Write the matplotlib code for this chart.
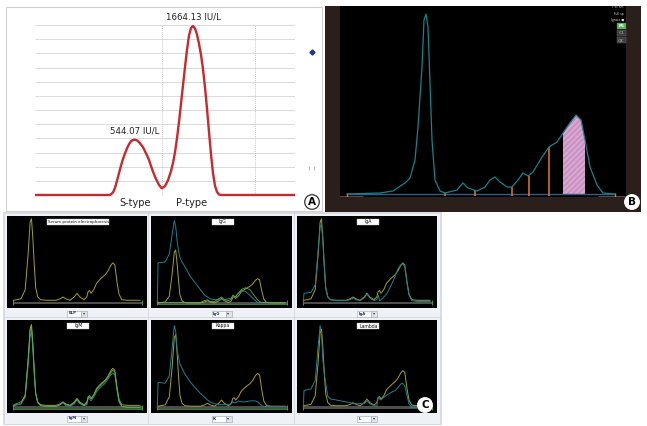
import numpy as np
import matplotlib.pyplot as plt
from matplotlib.patches import Rectangle, Circle

W, H = 647, 426  # figure size in pixels

# ---- Panel A: CK isoenzyme trace (x = migration px, y = IU/L)
A_X = [0, 75, 78, 80, 82, 84, 86, 88, 90, 92, 94, 96, 98, 100, 102, 104, 106,
       108, 110, 112, 114, 116, 118, 120, 122, 124, 126, 127, 130, 133, 136,
       138, 140, 142, 144, 146, 148, 150, 152, 154, 156, 158, 160, 162, 164,
       166, 168, 170, 172, 174, 176, 178, 180, 182, 184, 186, 260]
A_Y = [0, 0, 25, 70, 140, 215, 290, 355, 410, 460, 500, 530, 542, 544, 538,
       520, 497, 470, 430, 390, 345, 285, 230, 180, 138, 100, 74, 66, 88, 145,
       235, 315, 420, 560, 720, 900, 1080, 1260, 1430, 1570, 1645, 1664, 1640,
       1580, 1490, 1380, 1240, 1060, 850, 620, 400, 215, 90, 30, 5, 0, 0]
A_PEAK_X = [100, 158]
A_PEAK_V = [544.07, 1664.13]
A_TYPES = ["S-type", "P-type"]
A_TYPE_X = [100, 157]

# ---- Panel B: densitometry scan (x = mobility, y = density)
B_X = [7, 40, 53, 65, 70, 75, 78, 82, 84, 86, 88, 90, 92, 95, 100, 105, 117,
       123, 128, 137, 145, 150, 155, 160, 167, 172, 178, 183, 188, 193, 202,
       209, 217, 223, 230, 236, 241, 245, 250, 257, 263, 275]
B_Y = [0, 1, 3, 11, 16, 34, 67, 127, 174, 180, 167, 111, 54, 14, 3, 1, 4,
       11, 6, 3, 7, 14, 17, 12, 7, 7, 14, 21, 18, 22, 37,
       47, 52, 61, 71, 79, 74, 54, 27, 9, 1, 0]
B_CUTS = [105, 135, 172, 189, 209]
B_CUT_H = [1, 4, 7, 18, 47]
B_BAND = (223, 245)
B_STATUS = ["F sc sm", "Full sp", "Ignore \u25a0"]
B_BUTTONS = ["P6", "C1", "QC"]

# ---- Panel C: immunofixation overlays (x, y in % of each screen)
C_X = [4.5, 5, 10, 13, 15, 16.5, 17.5, 18.5, 19.5, 20.5, 22, 24, 28, 35, 38,
       40, 42, 45, 48, 50, 52, 55, 57, 58, 59, 60, 62, 64, 67, 70, 72, 74,
       75.5, 77, 78.5, 80, 82, 86, 95]
SPEP = [8.4, 8.4, 10, 20, 57, 93, 97, 75, 46, 22, 12, 9, 8.4, 8.4, 10,
        12, 10, 8.4, 12, 16, 12, 9, 12, 18, 19, 16, 20, 27, 32, 36, 40, 46,
        49, 47, 29, 15, 9, 8.4, 8.4]
IGG_TEAL = [6, 49, 50, 59, 80, 95, 89, 73, 62, 55, 50, 45, 34, 20, 14,
            12, 10, 9, 9, 9, 9, 10, 11, 12, 12.5, 13, 16, 19, 18, 14, 11, 8,
            6, 6, 6, 6, 6, 6, 6]
IGG_GREEN = [6, 6, 6, 6, 6, 6, 6, 6, 6, 6, 6, 6, 6, 6, 8,
             9, 7, 7, 10, 12, 9, 8, 10, 14, 13, 12, 16, 20, 22, 20, 16, 12,
             9, 7, 6, 6, 6, 6, 6]
IGA_TEAL = [5, 16, 17, 25, 60, 88, 91, 72, 45, 22, 12, 9, 8, 8, 9,
            11, 9, 8, 11, 15, 11, 8, 9, 14, 8, 9, 12, 15, 24, 34, 42, 47,
            48, 45, 28, 14, 8, 7, 7]
IGM_TEAL = [6, 8, 10, 17, 50, 82, 88, 68, 40, 20, 11, 8, 7, 7, 9,
            11, 8, 7, 10, 14, 10, 8, 9, 16, 15, 13, 17, 23, 28, 32, 36, 41,
            43, 41, 25, 12, 7, 6, 6]
IGM_GREEN = [7, 9, 12, 18, 54, 88, 93, 72, 43, 21, 11, 8, 7, 7, 9,
             12, 9, 8, 11, 15, 11, 8, 10, 17, 17, 15, 19, 25, 30, 34, 38, 43,
             46, 44, 27, 13, 7, 6, 6]
KAPPA_TEAL = [6, 33, 32, 40, 70, 94, 88, 68, 60, 53, 48, 42, 33, 21, 17,
              14, 12, 10, 9, 9, 9, 9, 10, 12, 11, 11, 13, 12, 12, 13, 13, 13,
              12, 10, 8, 7, 7, 7, 7]
LAMBDA_TEAL = [6, 24, 26, 35, 70, 94, 85, 57, 42, 32, 18, 15, 14, 12, 11,
               10, 10, 10, 10, 13, 10, 8, 7, 17, 15, 14, 17, 19, 22, 24, 27, 31,
               32, 29, 19, 10, 6, 6, 6]
C_TITLES = ["Serum protein electrophoresis", "IgG", "IgA", "IgM", "Kappa", "Lambda"]
C_MENUS = ["ELP", "IgG", "IgA", "IgM", "K", "L"]
# display gain of the SPEP (olive) reference trace on each screen
OLIVE_GAIN = [1.0, 0.65, 1.0, 0.98, 0.87, 0.93]
C_TEAL = [None, IGG_TEAL, IGA_TEAL, IGM_TEAL, KAPPA_TEAL, LAMBDA_TEAL]
C_GREEN = [None, IGG_GREEN, None, IGM_GREEN, None, None]

OLIVE, TEAL, GREEN = '#a59f2c', '#1f7f92', '#56b04c'
NARROW = ['Liberation Sans Narrow', 'DejaVu Sans']


def px_axes(fig, x0, y0, x1, y1):
    """Axes placed by pixel box (top-left origin)."""
    return fig.add_axes([x0 / W, 1 - y1 / H, (x1 - x0) / W, (y1 - y0) / H])


def pixel_canvas(fig):
    ax = px_axes(fig, 0, 0, W, H)
    ax.set_xlim(0, W)
    ax.set_ylim(H, 0)
    ax.axis('off')
    ax.patch.set_alpha(0)
    return ax


def bare(ax):
    ax.set_xticks([])
    ax.set_yticks([])
    for s in ax.spines.values():
        s.set_visible(False)


def draw_background(bg):
    # panel A frame
    bg.add_patch(Rectangle((6, 7), 316, 204, fc='white', ec='#d0d0d0', lw=0.8))
    # panel B instrument frame
    bg.add_patch(Rectangle((325, 6), 316, 206, fc='#2a1f1b', ec='none'))
    # panel C screens
    bg.add_patch(Rectangle((3, 212), 438, 212, fc='#f4f5f8', ec='#d3d7de', lw=0.6))
    # tiny marks at right of A
    bg.plot(312, 52, marker='D', ms=2.6, color='#1b3c84')
    bg.vlines([309, 314], 166, 170, color='#999999', lw=0.5)


def draw_panel_a(fig):
    ax = px_axes(fig, 35, 10, 295, 200)
    ax.set_xlim(0, 260)
    ax.set_ylim(-49.2, 1821.7)
    ax.axis('off')
    ax.patch.set_alpha(0)
    ax.hlines(np.arange(1, 13) * 139.5, 0, 260, color='#d9d9d9', lw=0.7)
    ax.vlines([127, 220], 0, 12 * 139.5, color='#b5b5b5', lw=0.6,
              linestyles=(0, (1, 1.5)))
    ax.plot(A_X, A_Y, color='#c62a2f', lw=1.7, solid_joinstyle='round',
            solid_capstyle='butt', clip_on=False)
    for x, v in zip(A_PEAK_X, A_PEAK_V):
        ax.annotate(f"{v:.2f} IU/L", xy=(x, v), xytext=(0, 3),
                    textcoords='offset points', ha='center', va='bottom',
                    fontsize=6.2, family=NARROW, color='#222222')
    for x, t in zip(A_TYPE_X, A_TYPES):
        ax.annotate(t, xy=(x, 0), xytext=(0, -2), textcoords='offset points',
                    ha='center', va='top', fontsize=7, family=NARROW,
                    color='#222222', annotation_clip=False)


def draw_panel_b(fig, top):
    ax = px_axes(fig, 340, 6, 626, 197)
    ax.set_facecolor('black')
    ax.set_xlim(0, 286)
    ax.set_ylim(-3, 188)
    bare(ax)

    bx = np.array(B_X)
    by = np.array(B_Y)
    band = (bx >= B_BAND[0]) & (bx <= B_BAND[1])
    ax.fill_between(bx[band], 0, by[band], fc='#d8a6d2', ec='#c48cbd',
                    hatch='//////', lw=0)
    ax.hlines(-1.5, -5, 23, color='#6a5548', lw=0.6)
    ax.hlines(-1.5, 258, 292, color='#6a5548', lw=0.6)
    ax.hlines(0, 7, 275, color='#2f5d8c', lw=1.0)
    ax.vlines(B_CUTS, -2, B_CUT_H, color='#e8792a', lw=1.1)
    ax.vlines([7, 275], -2.5, 1, color='#e8792a', lw=1.0)
    ax.plot(bx, by, color='#1c8088', lw=0.9)

    # status lines and buttons in the corner
    for i, s in enumerate(B_STATUS):
        top.text(624, 7.5 + 6 * i, s, ha='right', va='center', fontsize=2.2,
                 color='#d8d8d8')
    fills = ['#5cb85c', '#3a3a3a', '#3a3a3a']
    texts = ['white', '#8d8d8d', '#8d8d8d']
    for i, b in enumerate(B_BUTTONS):
        y0 = 23 + 7 * i
        top.add_patch(Rectangle((617, y0), 9, 6, fc=fills[i], ec='#6d6d6d', lw=0.3))
        top.text(621.5, y0 + 3, b, ha='center', va='center', fontsize=3,
                 color=texts[i], fontweight='bold')


def draw_panel_c(fig, bg, top):
    cols = [(7, 147), (151, 292), (297, 437)]
    rows = [(216, 308), (320, 413)]
    x = np.array(C_X)
    for k in range(6):
        x0, x1 = cols[k % 3]
        y0, y1 = rows[k // 3]
        bg.add_patch(Rectangle((x0 - 3, y0 - 3), x1 - x0 + 6, y1 - y0 + 14,
                               fc='#eef1f5', ec='#cdd2da', lw=0.5))

        ax = px_axes(fig, x0, y0, x1, y1)
        ax.set_facecolor('black')
        ax.set_xlim(0, 100)
        ax.set_ylim(0, 100)
        bare(ax)

        # baseline bar and end markers
        ax.fill_between([4.5, 96.5], 4.4, 7.0, color='#4d4d4d', lw=0)
        ax.vlines([4.5, 96.5], 3, 9, color=GREEN, lw=0.6)
        if C_GREEN[k] is not None or k == 4:
            ax.hlines(4, 4.5, 96.5, color=GREEN, lw=0.5)

        ax.plot(x, np.array(SPEP) * OLIVE_GAIN[k], color=OLIVE, lw=0.7)
        if C_TEAL[k] is not None:
            ax.plot(x, C_TEAL[k], color=TEAL, lw=0.7)
        if C_GREEN[k] is not None:
            ax.plot(x, C_GREEN[k], color=GREEN, lw=0.6)
        if k == 5:
            ax.hlines(6, 80, 96.5, color=TEAL, lw=0.7)

        # title box
        cx = x0 + 0.51 * (x1 - x0)
        bw = 62 if k == 0 else 22
        top.add_patch(Rectangle((cx - bw / 2, y0 + 3), bw, 6, fc='white',
                                ec='#bbbbbb', lw=0.3))
        top.text(cx, y0 + 6, C_TITLES[k], ha='center', va='center',
                 fontsize=2.9 if k == 0 else 3.3, color='#111111')

        # dropdown below screen
        mx = (x0 + x1) / 2
        my = y1 + 5.5
        top.add_patch(Rectangle((mx - 10, my - 3), 14, 6, fc='white',
                                ec='#9aa3b0', lw=0.4))
        top.add_patch(Rectangle((mx + 4, my - 3), 6, 6, fc='#e1e4e8',
                                ec='#9aa3b0', lw=0.4))
        top.text(mx - 8.5, my, C_MENUS[k], ha='left', va='center',
                 fontsize=2.8, color='#1a2b7a', fontweight='bold')
        top.text(mx + 7, my, '\u25be', ha='center', va='center',
                 fontsize=3, color='#333333')


def panel_letter(top, x, y, letter, edge):
    top.add_patch(Circle((x, y), 7.3, fc='white', ec=edge, lw=0.9))
    top.text(x, y + 0.3, letter, ha='center', va='center', fontsize=7.5,
             fontweight='bold', color='black')


def main():
    fig = plt.figure(figsize=(W / 100, H / 100), dpi=100)
    fig.patch.set_facecolor('white')

    bg = pixel_canvas(fig)
    draw_background(bg)
    draw_panel_a(fig)

    # overlay canvas for labels, drawn above every data axes
    top = pixel_canvas(fig)
    top.set_zorder(10)
    draw_panel_b(fig, top)
    draw_panel_c(fig, bg, top)

    panel_letter(top, 312, 202, 'A', '#333333')
    panel_letter(top, 632, 202, 'B', 'white')
    panel_letter(top, 425, 405, 'C', 'white')

    fig.savefig('out.png', dpi=100)


if __name__ == "__main__":
    main()
